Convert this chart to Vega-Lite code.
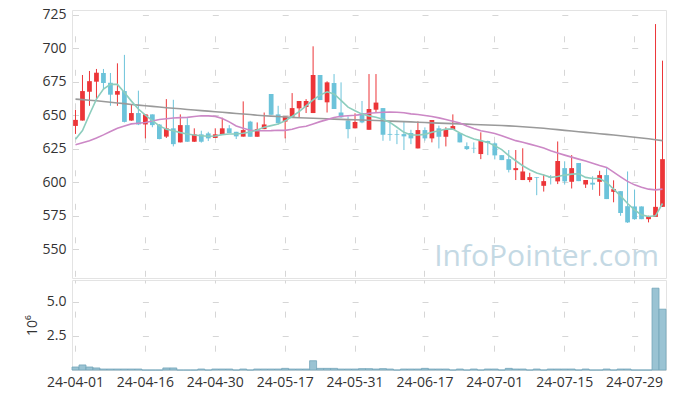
{
  "$schema": "https://vega.github.io/schema/vega-lite/v6.json",
  "padding": {"left": 24, "top": 7, "right": 5, "bottom": 5},
  "background": "white",
  "spacing": 0,
  "config": {
    "font": "Open Sans",
    "view": {"stroke": "#e3e3e3"},
    "axis": {"labelFont": "Open Sans", "labelFontSize": 14, "labelColor": "#333333", "labelOverlap": false, "domain": false, "ticks": false, "tickSize": 0, "gridColor": "#d6d6d6", "titleFont": "Open Sans", "titleFontSize": 14, "titleFontWeight": "normal", "titleColor": "#333333"}
  },
  "datasets": {
    "k": [
      {"d":"24-04-01","o":642,"h":654,"l":636,"c":646.5,"v":0.22,"m5":632,"m20":628,"m60":662},
      {"d":"24-04-02","o":646,"h":680,"l":646,"c":668,"v":0.37,"m5":638.5,"m20":629.5,"m60":661.6},
      {"d":"24-04-03","o":667.5,"h":683,"l":657,"c":675.4,"v":0.22,"m5":650.5,"m20":631,"m60":661.2},
      {"d":"24-04-04","o":675,"h":684.5,"l":661,"c":681.7,"v":0.15,"m5":662,"m20":633,"m60":660.8},
      {"d":"24-04-05","o":681.5,"h":684.5,"l":669.5,"c":674,"v":0.07,"m5":669.5,"m20":635.3,"m60":660.2},
      {"d":"24-04-08","o":674.2,"h":681.5,"l":657,"c":665.3,"v":0.07,"m5":673,"m20":637.8,"m60":659.6},
      {"d":"24-04-09","o":665.3,"h":688.7,"l":657,"c":668,"v":0.07,"m5":673,"m20":640.2,"m60":659.1},
      {"d":"24-04-11","o":668,"h":695,"l":644.6,"c":645,"v":0.07,"m5":667,"m20":642,"m60":658.6},
      {"d":"24-04-12","o":646,"h":657.6,"l":645.8,"c":651.6,"v":0.07,"m5":660.5,"m20":643.5,"m60":658},
      {"d":"24-04-15","o":651.6,"h":668.3,"l":642.6,"c":643.1,"v":0.07,"m5":654.6,"m20":644,"m60":657.5},
      {"d":"24-04-16","o":643.1,"h":650.6,"l":632.7,"c":650.6,"v":0,"m5":650,"m20":644.5,"m60":657},
      {"d":"24-04-17","o":650.6,"h":650.6,"l":641,"c":642.6,"v":0,"m5":646,"m20":645.7,"m60":656.6},
      {"d":"24-04-18","o":643,"h":643.4,"l":632,"c":632.2,"v":0,"m5":642,"m20":646.8,"m60":656.1},
      {"d":"24-04-19","o":634,"h":662,"l":633,"c":640.2,"v":0.15,"m5":639.6,"m20":647.4,"m60":655.6},
      {"d":"24-04-22","o":640.2,"h":661.5,"l":626.7,"c":628.4,"v":0.15,"m5":638.4,"m20":647.9,"m60":655.2},
      {"d":"24-04-23","o":629.7,"h":650.6,"l":629.7,"c":642.6,"v":0,"m5":637,"m20":648.2,"m60":654.8},
      {"d":"24-04-24","o":642.6,"h":647.8,"l":630,"c":630.2,"v":0,"m5":636,"m20":648.4,"m60":654.3},
      {"d":"24-04-25","o":630.2,"h":640.2,"l":630,"c":635.7,"v":0,"m5":635.2,"m20":649,"m60":653.9},
      {"d":"24-04-26","o":635.7,"h":638.4,"l":629.5,"c":630.2,"v":0.07,"m5":634.7,"m20":649.6,"m60":653.4},
      {"d":"24-04-29","o":636.4,"h":637.6,"l":630.7,"c":632.7,"v":0,"m5":634.3,"m20":649.5,"m60":653},
      {"d":"24-04-30","o":633,"h":640.2,"l":633,"c":635.7,"v":0.07,"m5":634.5,"m20":649.1,"m60":652.6},
      {"d":"24-05-02","o":635.7,"h":648.1,"l":635.7,"c":640.2,"v":0.07,"m5":635.5,"m20":647.5,"m60":652.2},
      {"d":"24-05-03","o":640.2,"h":642.6,"l":636.7,"c":636.7,"v":0.07,"m5":636,"m20":645,"m60":651.7},
      {"d":"24-05-07","o":637.6,"h":637.6,"l":632.2,"c":634.2,"v":0,"m5":636,"m20":642,"m60":651.3},
      {"d":"24-05-08","o":634,"h":660.3,"l":634,"c":638.9,"v":0.07,"m5":636.5,"m20":640.2,"m60":650.9},
      {"d":"24-05-09","o":645.2,"h":645.8,"l":633.9,"c":633.9,"v":0,"m5":637.5,"m20":638.8,"m60":650.5},
      {"d":"24-05-10","o":633.9,"h":644.6,"l":633.9,"c":639.6,"v":0.07,"m5":639,"m20":638.4,"m60":650},
      {"d":"24-05-13","o":639.6,"h":652,"l":639.6,"c":643.1,"v":0.07,"m5":641,"m20":638.4,"m60":649.6},
      {"d":"24-05-14","o":665.8,"h":665.8,"l":650.3,"c":650.3,"v":0.07,"m5":642.2,"m20":638.5,"m60":649.3},
      {"d":"24-05-16","o":650.6,"h":657,"l":643,"c":644.1,"v":0.07,"m5":643.4,"m20":638.8,"m60":649},
      {"d":"24-05-17","o":645.2,"h":649.1,"l":632.7,"c":649.1,"v":0.12,"m5":645.8,"m20":638.7,"m60":648.7},
      {"d":"24-05-20","o":648.8,"h":666.5,"l":648.8,"c":655.3,"v":0.07,"m5":649,"m20":639.5,"m60":648.4},
      {"d":"24-05-21","o":655.1,"h":660.6,"l":648.4,"c":660.6,"v":0.07,"m5":652.6,"m20":641,"m60":648.1},
      {"d":"24-05-22","o":656.1,"h":662,"l":651.6,"c":660.6,"v":0.07,"m5":657,"m20":641.8,"m60":647.9},
      {"d":"24-05-23","o":651.6,"h":701.4,"l":651.6,"c":680,"v":0.68,"m5":661.5,"m20":643.5,"m60":647.7},
      {"d":"24-05-24","o":680,"h":680,"l":661.3,"c":661.3,"v":0.12,"m5":665,"m20":645.2,"m60":647.5},
      {"d":"24-05-27","o":659.6,"h":675.3,"l":652,"c":674.5,"v":0.12,"m5":667.5,"m20":646.7,"m60":647.3},
      {"d":"24-05-28","o":674,"h":680.7,"l":654.6,"c":654.6,"v":0.12,"m5":665.8,"m20":648.3,"m60":647.1},
      {"d":"24-05-29","o":652,"h":674.5,"l":648,"c":648.4,"v":0.07,"m5":661,"m20":649.2,"m60":646.9},
      {"d":"24-05-30","o":646.1,"h":649.1,"l":632.7,"c":639.6,"v":0.07,"m5":656,"m20":649.6,"m60":646.7},
      {"d":"24-05-31","o":640.2,"h":651.4,"l":640.2,"c":644.9,"v":0.07,"m5":653.3,"m20":650,"m60":646.6},
      {"d":"24-06-03","o":651.6,"h":660.6,"l":644,"c":644.6,"v":0.1,"m5":650.8,"m20":650.6,"m60":646.4},
      {"d":"24-06-04","o":639.1,"h":680.7,"l":639.1,"c":654.6,"v":0.1,"m5":649.5,"m20":651.4,"m60":646.2},
      {"d":"24-06-05","o":654.1,"h":680.7,"l":652,"c":659.4,"v":0.07,"m5":648.5,"m20":651.8,"m60":646},
      {"d":"24-06-07","o":655.3,"h":655.3,"l":630.9,"c":635.4,"v":0.1,"m5":647,"m20":652.2,"m60":645.8},
      {"d":"24-06-10","o":636,"h":645.1,"l":630.9,"c":635.4,"v":0.07,"m5":644.6,"m20":652.4,"m60":645.6},
      {"d":"24-06-11","o":635.8,"h":639.1,"l":628.4,"c":635.3,"v":0,"m5":641,"m20":652.2,"m60":645.4},
      {"d":"24-06-12","o":635.9,"h":645.1,"l":624,"c":634.2,"v":0.07,"m5":637.2,"m20":651.8,"m60":645.2},
      {"d":"24-06-13","o":636.7,"h":639.1,"l":628.4,"c":632.7,"v":0.07,"m5":635.2,"m20":651,"m60":645},
      {"d":"24-06-14","o":625.2,"h":645.4,"l":625.2,"c":638.9,"v":0.07,"m5":635.2,"m20":650.5,"m60":644.7},
      {"d":"24-06-17","o":638.9,"h":640.9,"l":631,"c":632.7,"v":0.12,"m5":635.7,"m20":649.8,"m60":644.5},
      {"d":"24-06-18","o":632.7,"h":646.4,"l":629.7,"c":646.4,"v":0.07,"m5":637.2,"m20":649,"m60":644.3},
      {"d":"24-06-19","o":640.2,"h":642.2,"l":625.2,"c":633.9,"v":0.07,"m5":638.4,"m20":648,"m60":644.1},
      {"d":"24-06-20","o":633.9,"h":641,"l":626.7,"c":639.6,"v":0.07,"m5":639.6,"m20":646.8,"m60":643.9},
      {"d":"24-06-21","o":639.1,"h":650.6,"l":639.1,"c":641.9,"v":0,"m5":639.6,"m20":645.5,"m60":643.7},
      {"d":"24-06-24","o":636.7,"h":636.7,"l":629.7,"c":629.7,"v":0.07,"m5":636.7,"m20":644.2,"m60":643.5},
      {"d":"24-06-25","o":626.9,"h":629.7,"l":624,"c":624.7,"v":0,"m5":634.2,"m20":642,"m60":643.3},
      {"d":"24-06-26","o":625.6,"h":629.7,"l":621.7,"c":625.2,"v":0.07,"m5":632.2,"m20":640,"m60":643.1},
      {"d":"24-06-27","o":621,"h":637.2,"l":617.2,"c":630.7,"v":0,"m5":631,"m20":638.4,"m60":642.9},
      {"d":"24-06-28","o":630.7,"h":631,"l":620.2,"c":629.2,"v":0.07,"m5":629.7,"m20":637.5,"m60":642.7},
      {"d":"24-07-01","o":629,"h":629.7,"l":617,"c":620,"v":0.07,"m5":627.2,"m20":636.4,"m60":642.5},
      {"d":"24-07-02","o":620.2,"h":620.2,"l":616.5,"c":616.5,"v":0,"m5":624.3,"m20":634.7,"m60":642.3},
      {"d":"24-07-03","o":617.2,"h":624,"l":607.3,"c":609.2,"v":0.12,"m5":619.8,"m20":632.8,"m60":642},
      {"d":"24-07-04","o":609,"h":624,"l":601.6,"c":610.5,"v":0.07,"m5":616,"m20":631,"m60":641.7},
      {"d":"24-07-05","o":601.6,"h":625.3,"l":601.6,"c":608,"v":0.07,"m5":612.3,"m20":629.8,"m60":641.4},
      {"d":"24-07-08","o":601.6,"h":607,"l":600,"c":603.8,"v":0,"m5":609.3,"m20":628.4,"m60":641},
      {"d":"24-07-09","o":603.8,"h":603.8,"l":590.3,"c":603.3,"v":0.07,"m5":606.8,"m20":627,"m60":640.6},
      {"d":"24-07-10","o":597.3,"h":605.8,"l":593,"c":600.8,"v":0,"m5":605.3,"m20":625.5,"m60":640.2},
      {"d":"24-07-11","o":603.8,"h":605.3,"l":598.3,"c":603.3,"v":0.07,"m5":603.6,"m20":623.5,"m60":639.7},
      {"d":"24-07-12","o":600.6,"h":630.4,"l":598.6,"c":615.8,"v":0.07,"m5":604.3,"m20":621.8,"m60":639.2},
      {"d":"24-07-15","o":610.5,"h":615.6,"l":598.2,"c":600.6,"v":0.07,"m5":605.3,"m20":620.2,"m60":638.7},
      {"d":"24-07-16","o":600.3,"h":620.2,"l":595.3,"c":610.5,"v":0.07,"m5":606,"m20":618.7,"m60":638.2},
      {"d":"24-07-17","o":614.3,"h":614.3,"l":600.8,"c":600.8,"v":0,"m5":606.3,"m20":617.2,"m60":637.7},
      {"d":"24-07-18","o":598.2,"h":601.6,"l":595.7,"c":601.6,"v":0.07,"m5":603.6,"m20":615.8,"m60":637.2},
      {"d":"24-07-19","o":599.6,"h":604.4,"l":594.3,"c":598.2,"v":0,"m5":602.8,"m20":614.2,"m60":636.7},
      {"d":"24-07-22","o":600.3,"h":608.5,"l":589.8,"c":605.3,"v":0,"m5":602.8,"m20":612.5,"m60":636.2},
      {"d":"24-07-23","o":605.3,"h":610.5,"l":587.4,"c":587.4,"v":0.07,"m5":599.8,"m20":611,"m60":635.7},
      {"d":"24-07-24","o":592.8,"h":601.4,"l":585,"c":594.8,"v":0,"m5":594.8,"m20":607.5,"m60":635.2},
      {"d":"24-07-25","o":593.3,"h":593.3,"l":574.9,"c":577,"v":0.07,"m5":589.8,"m20":604,"m60":634.7},
      {"d":"24-07-26","o":582.1,"h":608,"l":569.6,"c":570,"v":0.07,"m5":584.1,"m20":600.6,"m60":634.1},
      {"d":"24-07-29","o":581.9,"h":594.5,"l":572,"c":572.4,"v":0,"m5":579.4,"m20":598,"m60":633.5},
      {"d":"24-07-30","o":581.9,"h":581.9,"l":572.4,"c":572.4,"v":0,"m5":575.6,"m20":596.3,"m60":633},
      {"d":"24-07-31","o":572.4,"h":575,"l":570,"c":574.7,"v":0,"m5":574.4,"m20":594.8,"m60":632.4},
      {"d":"24-08-01","o":574.1,"h":718,"l":574.1,"c":581.6,"v":6.0,"m5":574.9,"m20":594.3,"m60":631.7},
      {"d":"24-08-02","o":581.6,"h":690.7,"l":581.6,"c":617.2,"v":4.46,"m5":584.1,"m20":594.8,"m60":631}
    ]
  },
  "vconcat": [
    {
      "width": 594,
      "height": 268,
      "resolve": {"axis": {"x": "independent", "y": "independent"}},
      "layer": [
        {
          "data": {"name": "k"},
          "mark": {"type": "rule", "strokeWidth": 1},
          "encoding": {
            "x": {"field": "d", "type": "ordinal", "sort": null, "bandPosition": 0.5, "scale": {"paddingInner": 0, "paddingOuter": 0},
                  "axis": {"labels": false, "title": null, "grid": true, "gridDash": [6, 27.5], "gridDashOffset": 7.7,
                           "values": ["24-04-01","24-04-16","24-04-30","24-05-17","24-05-31","24-06-17","24-07-01","24-07-15","24-07-29"]}},
            "y": {"field": "l", "type": "quantitative", "scale": {"domain": [528.5, 728.5], "nice": false, "zero": false},
                  "axis": {"title": null, "values": [550, 575, 600, 625, 650, 675, 700, 725], "labelOverlap": false, "labelPadding": 6, "grid": true, "gridDash": [6, 63.9], "gridDashOffset": 69.4}},
            "y2": {"field": "h"},
            "color": {"condition": {"test": "datum.c >= datum.o", "value": "#ec3538"}, "value": "#6cc3da"}
          }
        },
        {
          "data": {"name": "k"},
          "mark": {"type": "bar", "width": {"band": 0.68}},
          "encoding": {
            "x": {"field": "d", "type": "ordinal", "sort": null, "axis": null},
            "y": {"field": "o", "type": "quantitative", "axis": null},
            "y2": {"field": "c"},
            "color": {"condition": {"test": "datum.c >= datum.o", "value": "#ec3538"}, "value": "#6cc3da"}
          }
        },
        {
          "data": {"name": "k"},
          "mark": {"type": "line", "color": "#9a9a9a", "strokeWidth": 1.6},
          "encoding": {
            "x": {"field": "d", "type": "ordinal", "sort": null, "bandPosition": 0.5, "axis": null},
            "y": {"field": "m60", "type": "quantitative", "axis": null}
          }
        },
        {
          "data": {"name": "k"},
          "mark": {"type": "line", "color": "#cc88c6", "strokeWidth": 1.6},
          "encoding": {
            "x": {"field": "d", "type": "ordinal", "sort": null, "bandPosition": 0.5, "axis": null},
            "y": {"field": "m20", "type": "quantitative", "axis": null}
          }
        },
        {
          "data": {"name": "k"},
          "mark": {"type": "line", "color": "#8ccdbd", "strokeWidth": 1.6},
          "encoding": {
            "x": {"field": "d", "type": "ordinal", "sort": null, "bandPosition": 0.5, "axis": null},
            "y": {"field": "m5", "type": "quantitative", "axis": null}
          }
        },
        {
          "data": {"values": [{"t": "InfoPointer.com"}]},
          "mark": {"type": "text", "align": "right", "baseline": "alphabetic", "font": "Open Sans", "fontSize": 30, "color": "#c4d9e4"},
          "encoding": {
            "x": {"datum": "24-08-02", "type": "ordinal", "bandPosition": 0, "axis": null},
            "y": {"datum": 537.7, "type": "quantitative", "axis": null},
            "text": {"field": "t"}
          }
        }
      ]
    },
    {
      "width": 594,
      "height": 90,
      "data": {"name": "k"},
      "mark": {"type": "bar", "fill": "#9ac3d3", "stroke": "#75a6ba", "strokeWidth": 0.8},
      "encoding": {
        "x": {"field": "d", "type": "ordinal", "sort": null, "scale": {"paddingInner": 0, "paddingOuter": 0},
              "axis": {"title": null, "labelAngle": 0, "labelPadding": 5, "grid": true, "gridDash": [6, 28.1], "gridDashOffset": 3,
                       "values": ["24-04-01","24-04-16","24-04-30","24-05-17","24-05-31","24-06-17","24-07-01","24-07-15","24-07-29"]}},
        "y": {"field": "v", "type": "quantitative", "scale": {"domain": [0, 6.6], "nice": false},
              "axis": {"title": "10⁶", "titlePadding": 7, "values": [2.5, 5], "format": ".1f", "labelPadding": 6, "grid": true, "gridDash": [6, 63.9], "gridDashOffset": 69.4}}
      }
    }
  ]
}
